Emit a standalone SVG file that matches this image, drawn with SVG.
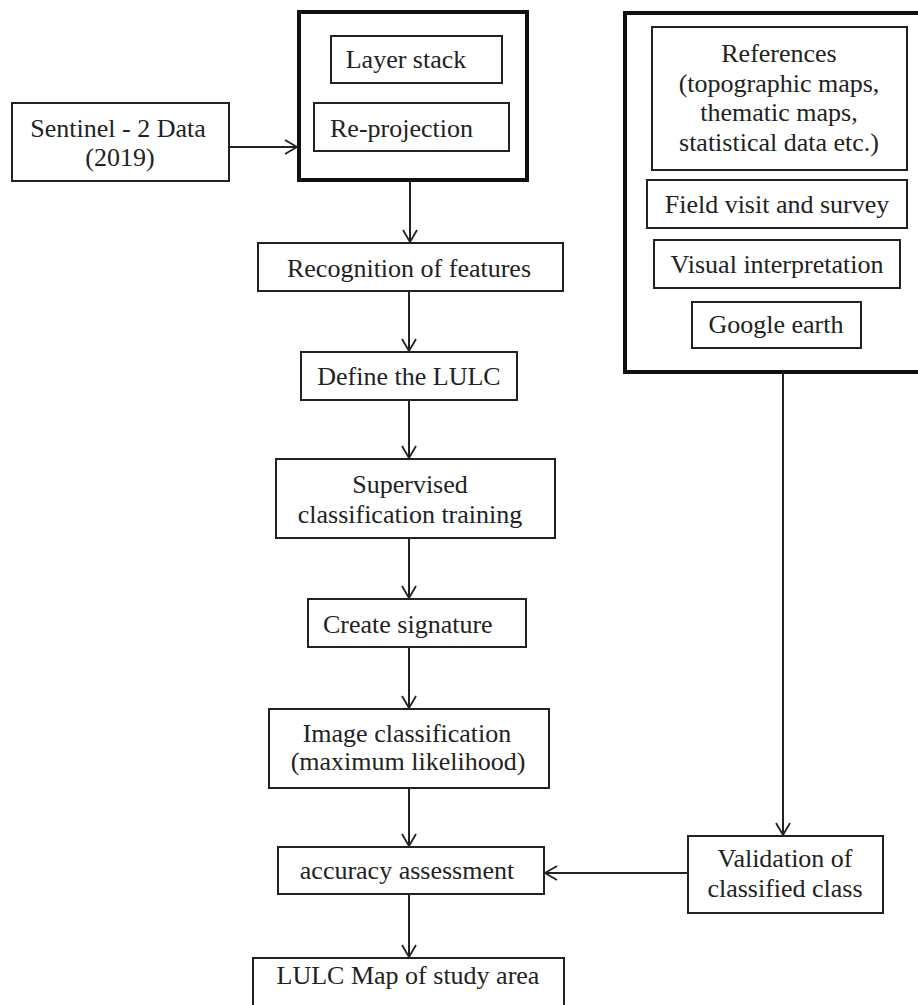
<svg xmlns="http://www.w3.org/2000/svg" width="918" height="1005" viewBox="0 0 918 1005">
<defs>
<marker id="arr" markerUnits="userSpaceOnUse" markerWidth="20" markerHeight="20" refX="13" refY="8" orient="auto">
<path d="M1,1 L13,8 L1,15" fill="none" stroke="#222" stroke-width="1.8"/>
</marker>
<style>
.box{fill:#fff;stroke:#222;stroke-width:2}
.thick{fill:#fff;stroke:#111;stroke-width:4}
.t{font-family:"Liberation Serif","Times New Roman",serif;font-size:26px;fill:#222;text-anchor:middle}
.ts{font-family:"Liberation Serif","Times New Roman",serif;font-size:26px;fill:#222}
.c{fill:none;stroke:#222;stroke-width:2}
</style>
</defs>
<rect width="918" height="1005" fill="#fff"/>
<g id="preprocess">
<rect class="thick" x="299" y="12" width="228" height="168"/>
</g>
<g id="layer-stack">
<rect class="box" x="331" y="36" width="171" height="47"/>
<text class="t" x="406" y="68">Layer stack</text>
</g>
<g id="reprojection">
<rect class="box" x="314" y="103" width="195" height="48"/>
<text class="ts" x="330" y="137">Re-projection</text>
</g>
<g id="sentinel">
<rect class="box" x="12" y="103" width="217" height="78"/>
<text class="t" x="118" y="137">Sentinel  - 2 Data</text>
<text class="t" x="120" y="166">(2019)</text>
</g>
<g id="references-group">
<rect class="thick" x="625" y="13" width="300" height="359"/>
</g>
<g id="references">
<rect class="box" x="652" y="27" width="255" height="143"/>
<text class="t" x="779" y="62">References</text>
<text class="t" x="779" y="92">(topographic maps,</text>
<text class="t" x="779" y="121">thematic maps,</text>
<text class="t" x="779" y="151">statistical data etc.)</text>
</g>
<g id="field-visit">
<rect class="box" x="647" y="180" width="260" height="48"/>
<text class="t" x="777" y="213">Field visit and survey</text>
</g>
<g id="visual">
<rect class="box" x="654" y="240" width="246" height="48"/>
<text class="t" x="777" y="273">Visual  interpretation</text>
</g>
<g id="google">
<rect class="box" x="692" y="302" width="169" height="46"/>
<text class="t" x="776" y="333">Google earth</text>
</g>
<g id="recognition">
<rect class="box" x="258" y="243" width="305" height="48"/>
<text class="t" x="409" y="277">Recognition  of features</text>
</g>
<g id="define">
<rect class="box" x="301" y="352" width="216" height="48"/>
<text class="t" x="409" y="385">Define the LULC</text>
</g>
<g id="supervised">
<rect class="box" x="276" y="459" width="279" height="79"/>
<text class="t" x="410" y="493">Supervised</text>
<text class="t" x="410" y="523">classification  training</text>
</g>
<g id="signature">
<rect class="box" x="308" y="599" width="218" height="48"/>
<text class="ts" x="323" y="633">Create  signature</text>
</g>
<g id="image-classification">
<rect class="box" x="269" y="709" width="280" height="79"/>
<text class="t" x="407" y="742">Image  classification</text>
<text class="t" x="408" y="770">(maximum  likelihood)</text>
</g>
<g id="accuracy">
<rect class="box" x="278" y="847" width="266" height="47"/>
<text class="t" x="407" y="879">accuracy  assessment</text>
</g>
<g id="validation">
<rect class="box" x="688" y="836" width="195" height="77"/>
<text class="t" x="785" y="867">Validation  of</text>
<text class="t" x="785" y="897">classified  class</text>
</g>
<g id="lulc-map">
<rect class="box" x="253" y="958" width="311" height="60"/>
<text class="t" x="408" y="984">LULC Map of study area</text>
</g>
<g id="connectors">
<line class="c" x1="229" y1="147" x2="297" y2="147" marker-end="url(#arr)"/>
<line class="c" x1="410" y1="182" x2="410" y2="242" marker-end="url(#arr)"/>
<line class="c" x1="409" y1="291" x2="409" y2="351" marker-end="url(#arr)"/>
<line class="c" x1="409" y1="400" x2="409" y2="458" marker-end="url(#arr)"/>
<line class="c" x1="409" y1="538" x2="409" y2="598" marker-end="url(#arr)"/>
<line class="c" x1="409" y1="647" x2="409" y2="708" marker-end="url(#arr)"/>
<line class="c" x1="409" y1="788" x2="409" y2="846" marker-end="url(#arr)"/>
<line class="c" x1="409" y1="894" x2="409" y2="957" marker-end="url(#arr)"/>
<line class="c" x1="783" y1="374" x2="783" y2="835" marker-end="url(#arr)"/>
<line class="c" x1="688" y1="873" x2="545" y2="873" marker-end="url(#arr)"/>
</g>
</svg>
